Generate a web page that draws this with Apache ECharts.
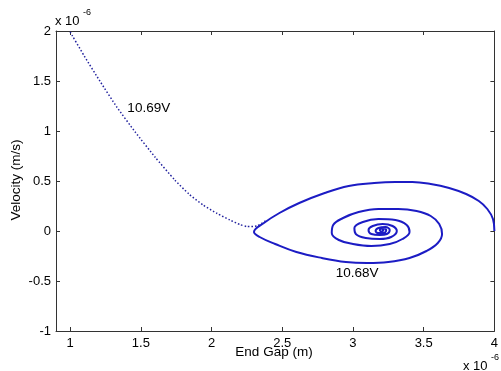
<!DOCTYPE html>
<html>
<head>
<meta charset="utf-8">
<script src="https://cdn.jsdelivr.net/npm/echarts@6/dist/echarts.min.js"></script>
<style>
  html, body { margin: 0; padding: 0; background: #fff; }
  #chart { width: 501px; height: 371px; }
</style>
</head>
<body>
<div id="chart"></div>
<script>
// values in units of 1e-6 (m and m/s)
var xTicks = [1, 1.5, 2, 2.5, 3, 3.5, 4];

// 10.69V trajectory (dotted)
var gap1069 = [1.0, 1.1, 1.21, 1.33, 1.46, 1.6, 1.74, 1.84, 1.94, 2.04, 2.13, 2.2, 2.25, 2.32, 2.39];
var vel1069 = [1.99, 1.75, 1.50, 1.24, 0.99, 0.74, 0.51, 0.37, 0.26, 0.175, 0.11, 0.065, 0.045, 0.05, 0.11];

// 10.68V trajectory (spiral)
var gap1068 = [4.0, 3.99, 3.95, 3.89, 3.80, 3.68, 3.55, 3.42, 3.30, 3.15, 2.97, 2.80, 2.62, 2.48, 2.37, 2.30,
  2.34, 2.45, 2.60, 2.78, 2.95, 3.10, 3.25, 3.40, 3.52, 3.60, 3.63,
  3.61, 3.55, 3.45, 3.32, 3.18, 3.04, 2.93, 2.86, 2.85, 2.90, 3.00, 3.13, 3.26, 3.35, 3.40,
  3.38, 3.30, 3.18, 3.07, 3.01, 3.02, 3.09, 3.19, 3.27, 3.31,
  3.28, 3.21, 3.14, 3.11, 3.13, 3.19, 3.24, 3.26,
  3.23, 3.18, 3.16, 3.18, 3.22, 3.235, 3.21, 3.19, 3.20, 3.215, 3.205];
var vel1068 = [0.0, 0.12, 0.22, 0.30, 0.37, 0.43, 0.47, 0.49, 0.49, 0.48, 0.45, 0.38, 0.28, 0.18, 0.08, -0.01,
  -0.06, -0.13, -0.21, -0.27, -0.31, -0.32, -0.31, -0.27, -0.20, -0.12, -0.03,
  0.07, 0.15, 0.20, 0.22, 0.22, 0.19, 0.13, 0.06, -0.02, -0.09, -0.13, -0.15, -0.13, -0.08, -0.01,
  0.06, 0.11, 0.12, 0.09, 0.03, -0.03, -0.07, -0.08, -0.06, 0.00,
  0.05, 0.07, 0.05, 0.01, -0.03, -0.04, -0.03, 0.01,
  0.04, 0.03, 0.00, -0.02, -0.02, 0.01, 0.025, 0.01, -0.005, 0.005, 0.01];

// text annotations
var noteText = ['10.69V', '10.68V'];
var noteGap = [1.556, 3.03];
var noteVel = [1.23, -0.42];

function pairs(xs, ys) {
  return xs.map(function (x, i) { return [x, ys[i]]; });
}

var chart = echarts.init(document.getElementById('chart'));
var font = 'Liberation Sans, Arial, sans-serif';
var axisCol = '#333';
var txtCol = '#000';

function xAxisAt(pos, labels) {
  return {
    type: 'value', min: 0.9, max: 4, position: pos,
    splitLine: { show: false },
    axisLine: { onZero: false, lineStyle: { color: axisCol } },
    axisTick: { inside: true, length: 4, customValues: xTicks, lineStyle: { color: axisCol } },
    axisLabel: labels
      ? { customValues: xTicks, margin: 6, color: txtCol, fontSize: 13, fontFamily: font }
      : { show: false }
  };
}

function yAxisAt(pos, labels) {
  return {
    type: 'value', min: -1, max: 2, interval: 0.5, position: pos,
    splitLine: { show: false },
    axisLine: { show: true, onZero: false, lineStyle: { color: axisCol } },
    axisTick: { show: true, inside: true, length: 4, lineStyle: { color: axisCol } },
    axisLabel: labels
      ? { margin: 5, color: txtCol, fontSize: 13, fontFamily: font }
      : { show: false }
  };
}

var option = {
  backgroundColor: '#fff',
  animation: false,
  grid: { left: 56, right: 4, top: 31, bottom: 40 },
  xAxis: [xAxisAt('bottom', true), xAxisAt('top', false)],
  yAxis: [yAxisAt('left', true), yAxisAt('right', false)],
  series: [{
    type: 'line',
    data: pairs(gap1069, vel1069),
    smooth: 0.2,
    showSymbol: false,
    lineStyle: { color: '#22229e', width: 1.5, type: [1.5, 2] }
  }, {
    type: 'line',
    data: pairs(gap1068, vel1068),
    smooth: 0.4,
    showSymbol: false,
    lineStyle: { color: '#1c1cc4', width: 2 }
  }, {
    type: 'scatter',
    symbolSize: 0,
    itemStyle: { opacity: 1 },
    data: noteText.map(function (t, i) { return { value: [noteGap[i], noteVel[i]], name: t }; }),
    label: {
      show: true, position: 'inside', formatter: '{b}',
      color: txtCol, fontSize: 13.5, fontFamily: font
    }
  }],
  graphic: [
    { type: 'text', x: 55, y: 21, style: { text: 'x 10', fill: txtCol, font: '13px ' + font, verticalAlign: 'middle' } },
    { type: 'text', x: 83, y: 8, style: { text: '-6', fill: txtCol, font: '9px ' + font } },
    { type: 'text', x: 463, y: 366, style: { text: 'x 10', fill: txtCol, font: '13px ' + font, verticalAlign: 'middle' } },
    { type: 'text', x: 491, y: 353, style: { text: '-6', fill: txtCol, font: '9px ' + font } },
    { type: 'text', x: 274, y: 352, style: { text: 'End Gap (m)', fill: txtCol, font: '13.5px ' + font, align: 'center', verticalAlign: 'middle' } },
    { type: 'text', x: 16, y: 180, rotation: Math.PI / 2, style: { text: 'Velocity (m/s)', fill: txtCol, font: '13.5px ' + font, align: 'center', verticalAlign: 'middle' } }
  ]
};

chart.setOption(option);
</script>
</body>
</html>
